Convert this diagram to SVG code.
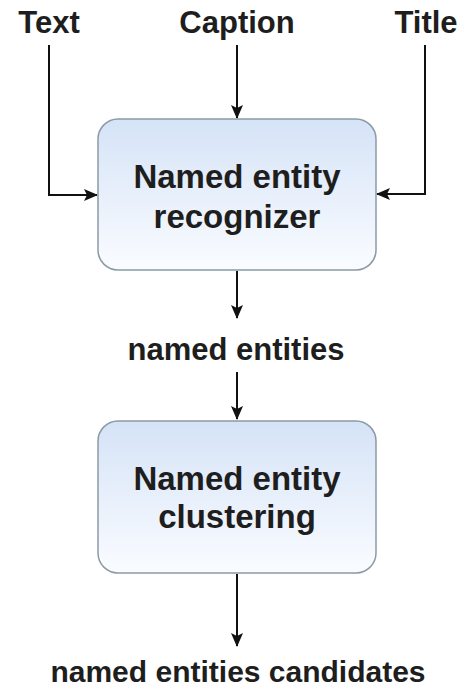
<svg xmlns="http://www.w3.org/2000/svg" width="463" height="690" viewBox="0 0 463 690">
<style>
.lbl{font-family:"Liberation Sans",Arial,sans-serif;font-weight:bold;fill:#1e1e1e;text-anchor:middle}
.edge{fill:none;stroke:#111;stroke-width:2}
.box{stroke:#8c9aa6;stroke-width:1.5;fill:url(#g)}
</style>
<defs>
<linearGradient id="g" x1="0" y1="0" x2="0" y2="1">
<stop offset="0" stop-color="#d5e3f7"/>
<stop offset="1" stop-color="#fafcff"/>
</linearGradient>
<marker id="ah" viewBox="0 0 14 12" refX="13" refY="6" markerWidth="14" markerHeight="12" markerUnits="userSpaceOnUse" orient="auto">
<path d="M0,0 L14,6 L0,12 L3,6 Z" fill="#111"/>
</marker>
</defs>
<g id="connectors">
<path class="edge" d="M49,45 V195 H97" marker-end="url(#ah)"/>
<path class="edge" d="M237,45 V118" marker-end="url(#ah)"/>
<path class="edge" d="M425,45 V194 H377" marker-end="url(#ah)"/>
<path class="edge" d="M237,271 V318" marker-end="url(#ah)"/>
<path class="edge" d="M237,372 V419" marker-end="url(#ah)"/>
<path class="edge" d="M237,574 V646" marker-end="url(#ah)"/>
</g>
<g id="text-input"><text class="lbl" x="49" y="33" font-size="31">Text</text></g>
<g id="caption-input"><text class="lbl" x="237" y="33" font-size="31">Caption</text></g>
<g id="title-input"><text class="lbl" x="426" y="33" font-size="31">Title</text></g>
<g id="recognizer">
<rect class="box" x="98" y="119" width="278" height="151" rx="20"/>
<text class="lbl" x="237" y="188" font-size="33">Named entity</text>
<text class="lbl" x="237" y="228" font-size="33">recognizer</text>
</g>
<g id="named-entities"><text class="lbl" x="236" y="360" font-size="31">named entities</text></g>
<g id="clustering">
<rect class="box" x="98" y="421" width="278" height="152" rx="20"/>
<text class="lbl" x="237" y="490" font-size="33">Named entity</text>
<text class="lbl" x="237" y="528" font-size="33">clustering</text>
</g>
<g id="candidates"><text class="lbl" x="238" y="682" font-size="30">named entities candidates</text></g>
</svg>
